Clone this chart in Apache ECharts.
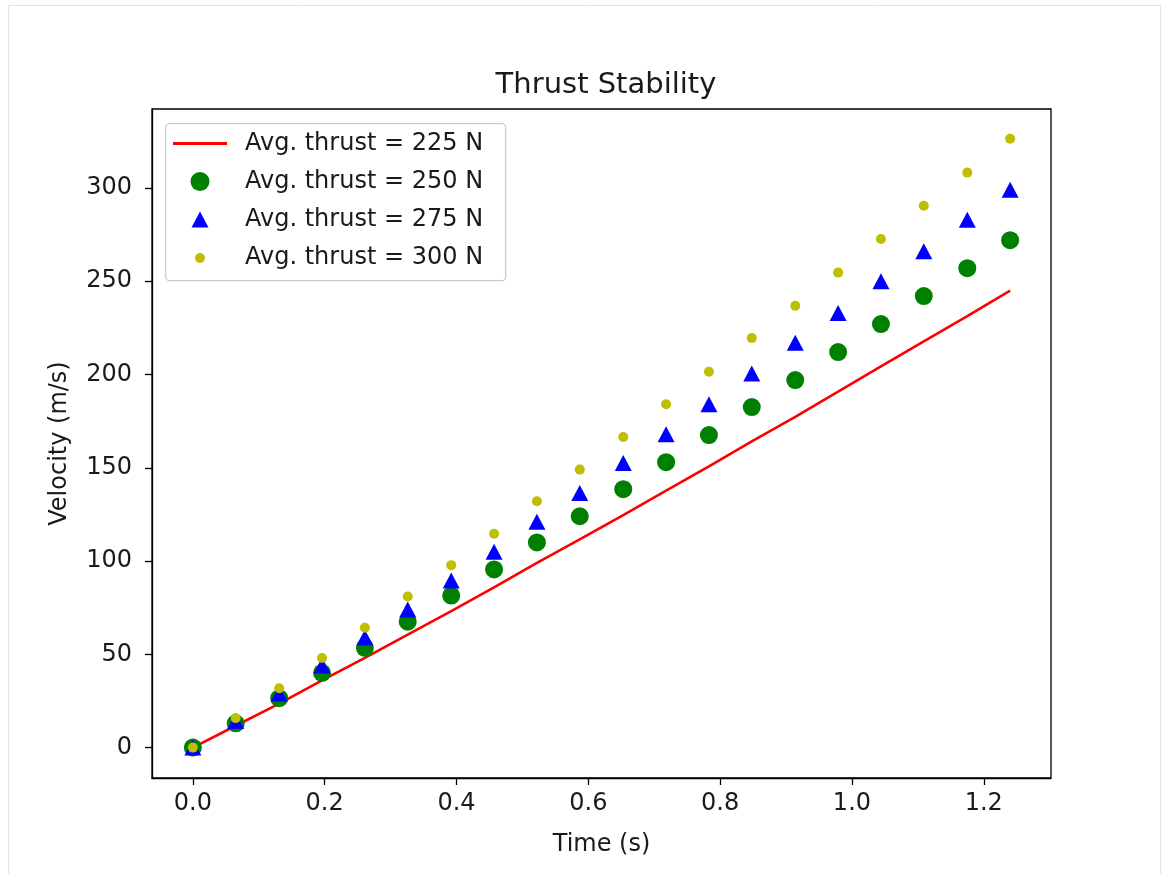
<!DOCTYPE html>
<html>
<head>
<meta charset="utf-8">
<script src="https://cdn.jsdelivr.net/npm/echarts@6/dist/echarts.min.js"></script>
<style>
html,body{margin:0;padding:0;background:#fff;}
#chart{width:1161px;height:874px;}
</style>
</head>
<body>
<div id="chart"></div>
<script>
// Data
var timeValues = [0, 0.065, 0.131, 0.196, 0.261, 0.326, 0.392, 0.457, 0.522, 0.587, 0.653, 0.718, 0.783, 0.848, 0.914, 0.979, 1.044, 1.109, 1.175, 1.24];
var thrust225 = [0, 11.7, 23.6, 36.0, 48.1, 60.6, 73.2, 85.9, 99.0, 111.6, 124.6, 137.7, 150.8, 164.2, 177.3, 190.8, 204.3, 217.8, 231.3, 245.0];
var thrust250 = [0, 13, 26.5, 40, 53.5, 67.5, 81.5, 95.5, 110, 124, 138.5, 153, 167.5, 182.5, 197, 212, 227, 242, 257, 272];
var thrust275 = [0, 14.3, 29, 44, 59, 74, 89.5, 105, 121, 136.5, 152.5, 168, 184, 200.5, 217, 233, 250, 266, 283, 299];
var thrust300 = [0, 15.8, 31.8, 48, 64.2, 81, 97.8, 114.6, 132, 149, 166.5, 184, 201.5, 219.5, 236.8, 254.6, 272.6, 290.4, 308.2, 326.4];
var seriesNames = ['Avg. thrust = 225 N', 'Avg. thrust = 250 N', 'Avg. thrust = 275 N', 'Avg. thrust = 300 N'];
var xTicks = [0, 0.2, 0.4, 0.6, 0.8, 1.0, 1.2];
var yTicks = [0, 50, 100, 150, 200, 250, 300];

function pairs(xs, ys) { return xs.map(function (x, i) { return [x, ys[i]]; }); }

var FONT = 'DejaVu Sans';
var TXT = '#1a1a1a';
var chart = echarts.init(document.getElementById('chart'), null, {renderer: 'canvas'});

function legendRow(name, icon, left, top, w, h, padLeft) {
  return {
    data: [{name: name, icon: icon}],
    orient: 'vertical',
    left: left,
    top: top,
    padding: 0,
    itemWidth: w,
    itemHeight: h,
    selectedMode: false,
    z: 10,
    textStyle: {fontFamily: FONT, fontSize: 24, color: TXT, lineHeight: 30, padding: [0, 0, 0, padLeft]}
  };
}

var option = {
  animation: false,
  backgroundColor: '#ffffff',
  title: {
    text: 'Thrust Stability',
    left: 601,
    top: 66,
    textAlign: 'center',
    textStyle: {fontFamily: FONT, fontSize: 29, fontWeight: 'normal', color: TXT}
  },
  graphic: [
    {type: 'rect', left: 6, top: 3, shape: {width: 1152, height: 873}, style: {fill: 'none', stroke: '#e2e2e2', lineWidth: 1}, silent: true, z: -1},
    {type: 'rect', left: 165, top: 123, shape: {width: 340, height: 157, r: 4}, style: {fill: 'rgba(255,255,255,0.8)', stroke: '#cccccc', lineWidth: 1.3}, silent: true, z: 1}
  ],
  legend: [
    legendRow(seriesNames[0], 'rect', 173, 128.5, 54, 3, 13),
    legendRow(seriesNames[1], 'circle', 190.5, 166.5, 19, 19, 30.5),
    legendRow(seriesNames[2], 'triangle', 191.5, 204.5, 17, 16, 31.5),
    legendRow(seriesNames[3], 'circle', 195, 243, 10, 10, 35)
  ],
  grid: {
    left: 152, right: 110, top: 109, bottom: 96,
    show: true, borderColor: '#000', borderWidth: 1.3, backgroundColor: 'transparent'
  },
  xAxis: {
    type: 'value',
    min: -0.062, max: 1.302,
    name: 'Time (s)',
    nameLocation: 'middle',
    nameGap: 55,
    nameTextStyle: {fontFamily: FONT, fontSize: 24, color: TXT},
    axisLine: {show: true, onZero: false, lineStyle: {color: '#000', width: 1.3}},
    axisTick: {show: true, length: 7, inside: false, customValues: xTicks, lineStyle: {color: '#000', width: 1.3}},
    axisLabel: {show: true, customValues: xTicks, margin: 14, fontFamily: FONT, fontSize: 24, color: TXT,
      formatter: function (v) { return v.toFixed(1); }},
    splitLine: {show: false}
  },
  yAxis: {
    type: 'value',
    min: -16.3, max: 342.3,
    name: 'Velocity (m/s)',
    nameLocation: 'middle',
    nameGap: 80,
    nameTextStyle: {fontFamily: FONT, fontSize: 24, color: TXT},
    axisLine: {show: true, onZero: false, lineStyle: {color: '#000', width: 1.3}},
    axisTick: {show: true, length: 7, inside: false, customValues: yTicks, lineStyle: {color: '#000', width: 1.3}},
    axisLabel: {show: true, customValues: yTicks, margin: 20, fontFamily: FONT, fontSize: 24, color: TXT,
      formatter: function (v) { return String(Math.round(v)); }},
    splitLine: {show: false}
  },
  series: [
    {
      name: seriesNames[0], type: 'line', data: pairs(timeValues, thrust225),
      symbol: 'none', smooth: false,
      lineStyle: {color: '#ff0000', width: 2.6}, itemStyle: {color: '#ff0000'}, z: 2
    },
    {
      name: seriesNames[1], type: 'scatter', data: pairs(timeValues, thrust250),
      symbol: 'circle', symbolSize: 18, itemStyle: {color: '#008000', opacity: 1}, z: 3
    },
    {
      name: seriesNames[2], type: 'scatter', data: pairs(timeValues, thrust275),
      symbol: 'triangle', symbolSize: [17, 16], itemStyle: {color: '#0000ff', opacity: 1}, z: 4
    },
    {
      name: seriesNames[3], type: 'scatter', data: pairs(timeValues, thrust300),
      symbol: 'circle', symbolSize: 10, itemStyle: {color: '#bfbf00', opacity: 1}, z: 5
    }
  ]
};
chart.setOption(option);
</script>
</body>
</html>
